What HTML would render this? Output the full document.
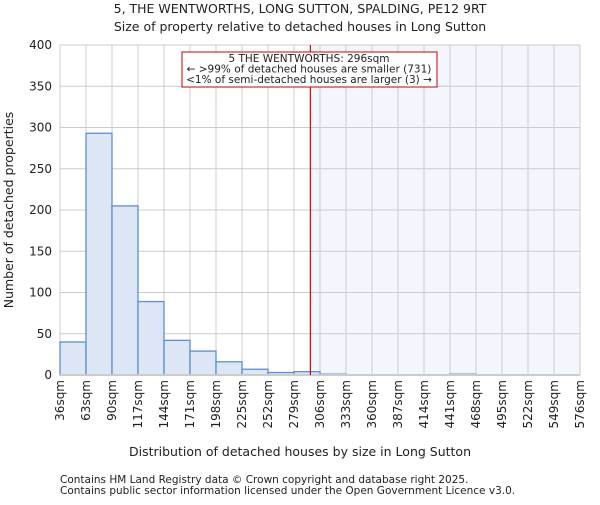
<!DOCTYPE html>
<html><head><meta charset="utf-8"><style>
body{margin:0;background:#fff;font-family:"Liberation Sans","DejaVu Sans",sans-serif}
svg text{font-family:"DejaVu Sans","Liberation Sans",sans-serif;fill:#222}
</style></head><body>
<svg id="c" width="600" height="500">
<text x="300" y="13" text-anchor="middle" font-size="12.5">5, THE WENTWORTHS, LONG SUTTON, SPALDING, PE12 9RT</text>
<text x="300" y="31" text-anchor="middle" font-size="12.5">Size of property relative to detached houses in Long Sutton</text>
<g id="plot"></g>
<text x="300" y="456" text-anchor="middle" font-size="12.5">Distribution of detached houses by size in Long Sutton</text>
<text transform="translate(13,210) rotate(-90)" text-anchor="middle" font-size="12.5">Number of detached properties</text>
<text x="60" y="483" font-size="10.5" fill="#444">Contains HM Land Registry data © Crown copyright and database right 2025.</text>
<text x="60" y="494" font-size="10.5" fill="#444">Contains public sector information licensed under the Open Government Licence v3.0.</text>
</svg>
<script>
const binEdges=[36,63,90,117,144,171,198,225,252,279,306,333,360,387,414,441,468,495,522,549,576];
const counts=[40,293,205,89,42,29,16,7,3,4,1,0,0,0,0,1,0,0,0,0];
const yTicks=[0,50,100,150,200,250,300,350,400];
const propertySize=296;
const NS="http://www.w3.org/2000/svg";
const L=60,R=580,T=45,B=375;
const xs=v=>L+(v-36)/(576-36)*(R-L);
const ys=v=>B-v/400*(B-T);
const g=document.getElementById('plot');
function mk(t,a){const e=document.createElementNS(NS,t);for(const k in a)e.setAttribute(k,a[k]);g.appendChild(e);return e;}
let e;
e=mk('rect',{x:xs(propertySize),y:T,width:R-xs(propertySize),height:B-T,fill:'#f3f6fd'});


binEdges.forEach(v=>{e=mk('line',{x1:xs(v),x2:xs(v),y1:T,y2:B,stroke:'#ccc','stroke-width':1});

});
yTicks.forEach(v=>{e=mk('line',{x1:L,x2:R,y1:ys(v),y2:ys(v),stroke:'#ccc','stroke-width':1});


e=mk('text',{x:L-8,y:ys(v)+4,'text-anchor':'end','font-size':'12'});e.textContent=v;

});
counts.forEach((c,i)=>{if(c<=0)return;const x0=xs(binEdges[i]),x1=xs(binEdges[i+1]);
e=mk('rect',{x:x0,y:ys(c),width:x1-x0,height:B-ys(c),fill:'#dce6f4',stroke:'#5b8fd6','stroke-width':1.3});

});
e=mk('line',{x1:L,x2:R,y1:B,y2:B,stroke:'#ccc','stroke-width':2});


binEdges.forEach(v=>{e=mk('text',{transform:`translate(${xs(v)+4},380) rotate(-90)`,'text-anchor':'end','font-size':'12'});e.textContent=v+'sqm';

});
e=mk('line',{x1:xs(propertySize),x2:xs(propertySize),y1:T,y2:B,stroke:'#d00','stroke-width':1.2});


e=mk('rect',{x:182,y:52,width:255,height:35,fill:'#fff',stroke:'#c00','stroke-width':1});


["5 THE WENTWORTHS: 296sqm","← >99% of detached houses are smaller (731)","<1% of semi-detached houses are larger (3) →"].forEach((s,i)=>{
e=mk('text',{x:309,y:62+i*10.5,'text-anchor':'middle','font-size':'10.5'});e.textContent=s;

});
</script>
</body></html>
